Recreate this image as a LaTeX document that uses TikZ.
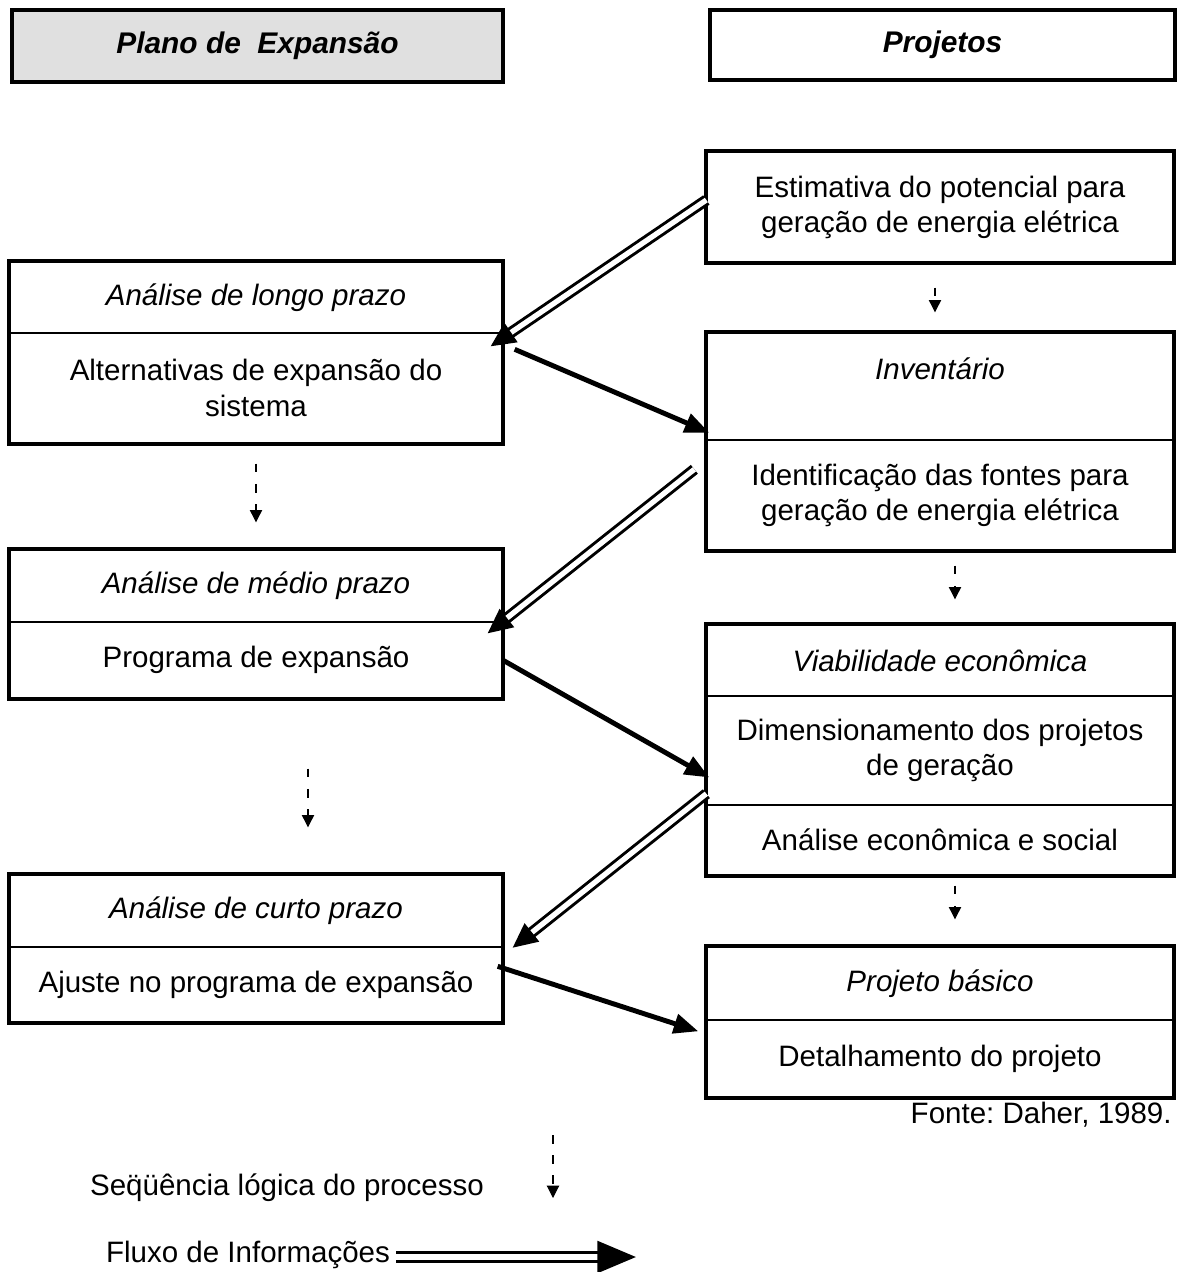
\documentclass[tikz,border=0pt]{standalone}
\usepackage{fontspec}
\setmainfont{Liberation Sans}
\usetikzlibrary{arrows.meta,calc}
\frenchspacing

\tikzset{
  txt/.style={inner sep=0pt, align=center, font=\fontsize{16.8}{20}\selectfont},
  cell/.style={txt, draw, line width=0.8pt, minimum width=#1},
  ttl/.style={font=\fontsize{16.8}{20}\selectfont\itshape},
  head/.style={draw, line width=2pt, inner sep=0pt, font=\fontsize{17}{20}\selectfont\bfseries\itshape},
  frame/.style={draw, line width=2.2pt},
  infoarrow/.style={double, line width=1.7pt, double distance=3pt, -{Triangle[length=14pt,width=13pt]}},
  fwdarrow/.style={line width=2.8pt, -{Triangle[length=14pt,width=11pt]}},
  seqarrow/.style={line width=0.6pt, dash pattern=on 5pt off 6.5pt, -{Triangle[length=7pt,width=7pt]}}
}

\begin{document}
\begin{tikzpicture}[x=0.02cm, y=-0.02cm]
\useasboundingbox (0,0) rectangle (1178,1272);

% Column headers
\node[head, fill=black!12, minimum width=9.82cm, minimum height=1.44cm] (hplano) at (257.5,46) {Plano de\ \ Expans\~ao};
\node[head, minimum width=9.3cm, minimum height=1.4cm] (hproj) at (942.5,45) {Projetos};

% Plano de Expansao
\node[cell=9.84cm, ttl, minimum height=1.42cm] (L1a) at (256,297.5) {An\'alise de longo prazo};
\node[cell=9.84cm, minimum height=2.2cm] (L1b) at (256,388) {Alternativas de expans\~ao do\\sistema};
\draw[frame] (L1a.north west) rectangle (L1b.south east);

\node[cell=9.84cm, ttl, minimum height=1.44cm] (L2a) at (256,586) {An\'alise de m\'edio prazo};
\node[cell=9.84cm, minimum height=1.52cm] (L2b) at (256,660) {Programa de expans\~ao};
\draw[frame] (L2a.north west) rectangle (L2b.south east);

\node[cell=9.84cm, ttl, minimum height=1.44cm] (L3a) at (256,911) {An\'alise de curto prazo};
\node[cell=9.84cm, minimum height=1.5cm] (L3b) at (256,984.5) {Ajuste no programa de expans\~ao};
\draw[frame] (L3a.north west) rectangle (L3b.south east);

% Projetos
\node[cell=9.32cm, minimum height=2.2cm] (R0) at (940,207) {Estimativa do potencial para\\gera\c{c}\~ao de energia el\'etrica};
\draw[frame] (R0.north west) rectangle (R0.south east);

\node[cell=9.32cm, ttl, minimum height=2.14cm] (R1a) at (940,386.5) {Invent\'ario\\\mbox{}};
\node[cell=9.32cm, minimum height=2.2cm] (R1b) at (940,495) {Identifica\c{c}\~ao das fontes para\\gera\c{c}\~ao de energia el\'etrica};
\draw[frame] (R1a.north west) rectangle (R1b.south east);

\node[cell=9.32cm, ttl, minimum height=1.42cm] (R2a) at (940,660.5) {Viabilidade econ\^omica};
\node[cell=9.32cm, minimum height=2.18cm] (R2b) at (940,750.5) {Dimensionamento dos projetos\\de gera\c{c}\~ao};
\node[cell=9.32cm, minimum height=1.4cm] (R2c) at (940,840) {An\'alise econ\^omica e social};
\draw[frame] (R2a.north west) rectangle (R2c.south east);

\node[cell=9.32cm, ttl, minimum height=1.46cm] (R3a) at (940,983.5) {Projeto b\'asico};
\node[cell=9.32cm, minimum height=1.54cm] (R3b) at (940,1058.5) {Detalhamento do projeto};
\draw[frame] (R3a.north west) rectangle (R3b.south east);

\node[txt, anchor=east] (fonte) at (1172,1115) {Fonte: Daher, 1989.};

% Sequence of the process
\draw[seqarrow, shorten <=0.4cm, shorten >=0.54cm] (L1b.south) -- (L2a.north);
\draw[seqarrow, shorten <=1.4cm, shorten >=0.94cm] ($(L2b.south)+(52,0)$) -- ($(L3a.north)+(52,0)$);
\draw[seqarrow, shorten <=0.5cm, shorten >=0.4cm] ($(R0.south)+(-5,0)$) -- ($(R1a.north)+(-5,0)$);
\draw[seqarrow, shorten <=0.3cm, shorten >=0.5cm] ($(R1b.south)+(15,0)$) -- ($(R2a.north)+(15,0)$);
\draw[seqarrow, shorten <=0.2cm, shorten >=0.54cm] ($(R2c.south)+(15,0)$) -- ($(R3a.north)+(15,0)$);

% Information flow
\draw[infoarrow] ($(R0.west)+(0,-7)$) -- ($(L1b.north east)+(-12,14)$);
\draw[fwdarrow] ($(L1b.north east)+(12,17)$) -- ($(R1a.south west)+(3,-8)$);
\draw[infoarrow] ($(R1b.north west)+(-12,30)$) -- ($(L2b.north east)+(-15,12)$);
\draw[fwdarrow] (L2b.east) -- ($(R2b.west)+(3,27)$);
\draw[infoarrow] ($(R2b.south west)+(0,-12)$) -- ($(L3a.south east)+(10,0)$);
\draw[fwdarrow] ($(L3b.north east)+(-5,20)$) -- ($(R3b.north west)+(-8,12)$);

% Legend
\node[txt] (seq) at (287,1188) {Se\"q\"u\^encia l\'ogica do processo};
\coordinate (seqtop) at (553,1135);
\coordinate (seqend) at (553,1198);
\draw[seqarrow] (seqtop) -- (seqend);

\node[txt] (flux) at (248,1255) {Fluxo de Informa\c{c}\~oes};
\coordinate (fluxend) at (636,1257);
\draw[infoarrow, line width=2pt, double distance=3pt, -{Triangle[length=22pt,width=18pt]}] ($(flux.east)+(6,2)$) -- (fluxend);

\end{tikzpicture}
\end{document}
